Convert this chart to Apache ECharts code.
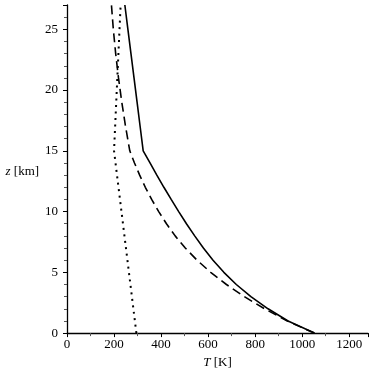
<!DOCTYPE html>
<html>
<head>
<meta charset="utf-8">
<script src="https://cdn.jsdelivr.net/npm/echarts@6/dist/echarts.min.js"></script>
<style>
  html, body { margin: 0; padding: 0; background: #fff; }
  #main { width: 374px; height: 374px; }
</style>
</head>
<body>
<div id="main"></div>
<script>
// altitude levels [km] shared by the two upper curves
var zLevels = [0, 1, 2, 3, 4, 5, 6, 7, 8, 9, 10, 11, 12, 13, 14, 15, 17, 19, 21, 23, 25, 27];
// solid curve, T [K]
var tSolid = [1052, 940, 855, 782, 720, 667, 621, 580, 543, 508, 475, 443, 412, 382, 353, 324, 311, 298, 285, 272, 259, 246];
// dashed curve, T [K]
var tDashed = [1052, 937, 840, 754, 678, 611, 553, 503, 460, 423, 390, 360, 333, 309, 287, 267, 249, 233, 219, 207, 197, 189];
// dotted curve
var zDotted = [0, 15, 27];
var tDotted = [295, 200, 228];

var xTicks = [0, 200, 400, 600, 800, 1000, 1200];
var yTicks = [0, 5, 10, 15, 20, 25];

function pairs(ts, zs) {
  var out = [];
  for (var i = 0; i < ts.length; i++) out.push([ts[i], zs[i]]);
  return out;
}

var myChart = echarts.init(document.getElementById('main'));

var serif = 'Liberation Serif';

var option = {
  animation: false,
  backgroundColor: '#fff',
  grid: { left: 67, right: 6, top: 5, bottom: 40, containLabel: false },
  xAxis: {
    type: 'value',
    min: 0,
    max: 1280,
    interval: 200,
    name: '{i|T} [K]',
    nameLocation: 'middle',
    nameGap: 20,
    nameTextStyle: {
      fontFamily: serif, fontSize: 13, color: '#000',
      rich: { i: { fontStyle: 'italic', fontFamily: serif, fontSize: 13, color: '#000' } }
    },
    axisLine: { onZero: false, lineStyle: { color: '#000', width: 1.3 } },
    axisTick: { show: true, length: 4, lineStyle: { color: '#000' } },
    minorTick: { show: true, splitNumber: 2, length: 3, lineStyle: { color: '#555' } },
    splitLine: { show: false },
    axisLabel: {
      margin: 5, showMaxLabel: false,
      fontFamily: serif, fontSize: 13, color: '#000',
      formatter: function (v) { return xTicks.indexOf(v) >= 0 ? String(v) : ''; }
    }
  },
  yAxis: {
    type: 'value',
    min: 0,
    max: 27,
    interval: 5,
    name: '{i|z} [km]',
    nameLocation: 'middle',
    nameRotate: 0,
    nameGap: 24,
    nameTextStyle: {
      fontFamily: serif, fontSize: 13, color: '#000', align: 'right', padding: [5, 0, 0, 0],
      rich: { i: { fontStyle: 'italic', fontFamily: serif, fontSize: 13, color: '#000' } }
    },
    axisLine: { show: true, onZero: false, lineStyle: { color: '#000', width: 1.3 } },
    axisTick: { show: true, length: 4, lineStyle: { color: '#000' } },
    minorTick: { show: true, splitNumber: 5, length: 3, lineStyle: { color: '#555' } },
    splitLine: { show: false },
    axisLabel: {
      margin: 9, showMaxLabel: false,
      fontFamily: serif, fontSize: 13, color: '#000',
      formatter: function (v) { return yTicks.indexOf(v) >= 0 ? String(v) : ''; }
    }
  },
  series: [
    {
      type: 'line', data: pairs(tSolid, zLevels), showSymbol: false, smooth: false,
      lineStyle: { color: '#000', width: 1.6, type: 'solid' }
    },
    {
      type: 'line', data: pairs(tDashed, zLevels), showSymbol: false, smooth: false,
      lineStyle: { color: '#000', width: 1.6, type: [9, 5] }
    },
    {
      type: 'line', data: pairs(tDotted, zDotted), showSymbol: false, smooth: false,
      lineStyle: { color: '#000', width: 2, type: [2, 4.5] }
    }
  ]
};

myChart.setOption(option);
</script>
</body>
</html>
